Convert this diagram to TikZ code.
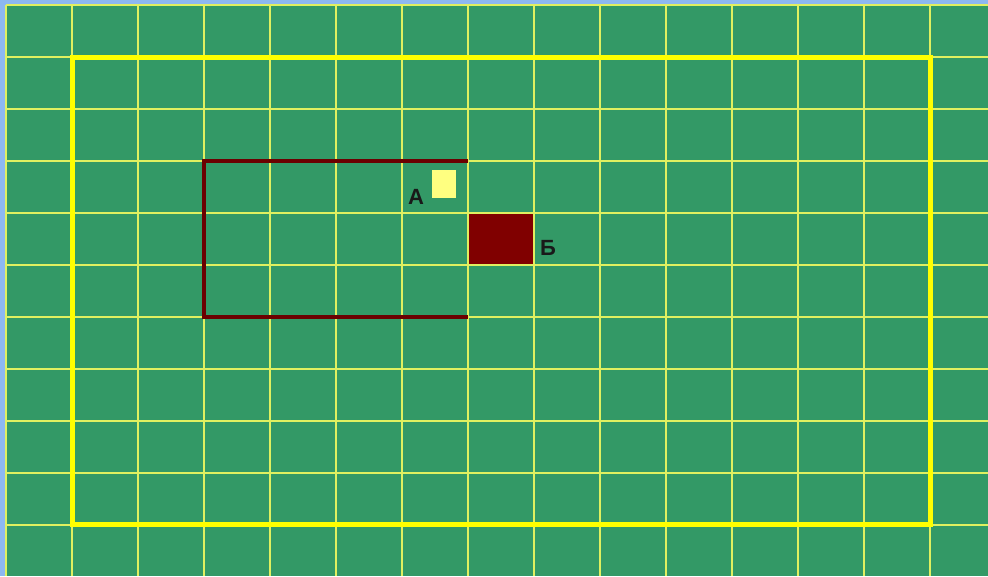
\documentclass[tikz,border=0pt]{standalone}
\usepackage{fontspec}
\setmainfont{Liberation Sans}
\definecolor{bgblue}{HTML}{8DB8F0}
\definecolor{board}{HTML}{339966}
\definecolor{gridyel}{HTML}{E0F060}
\definecolor{frameyel}{HTML}{FFFF00}
\definecolor{brown}{HTML}{6B0000}
\definecolor{sqbrown}{HTML}{800000}
\definecolor{sqyel}{HTML}{FFFF80}
\begin{document}
\begin{tikzpicture}[x=1pt,y=-1pt,
  gridline/.style={draw=gridyel,line width=1.8pt},
  frame/.style={draw=frameyel,line width=5pt},
  bracket/.style={draw=brown,line width=4.5pt},
  lbl/.style={font=\bfseries\fontsize{22}{25}\selectfont,text=black!90,inner sep=0pt}]
\useasboundingbox (0,0) rectangle (988,576);
\fill[bgblue] (0,0) rectangle (988,576);
\fill[board] (6,5) rectangle (988,576);
\foreach \i in {0,...,14} {\draw[gridline] (6+66*\i,5) -- (6+66*\i,576);}
\foreach \j in {0,...,10} {\draw[gridline] (6,5+52*\j) -- (988,5+52*\j);}
\draw[frame] (72,57) rectangle (930,524);
\draw[bracket] (468,161) -- (204,161) -- (204,317) -- (468,317);
\node[fill=sqyel,minimum width=24pt,minimum height=28pt,inner sep=0pt] (sqA) at (444,184) {};
\node[fill=sqbrown,minimum width=64pt,minimum height=50pt,inner sep=0pt] (sqB) at (501,239) {};
\node[lbl] (labA) at (416,197) {А};
\node[lbl] (labB) at (548,248) {Б};
\end{tikzpicture}
\end{document}
